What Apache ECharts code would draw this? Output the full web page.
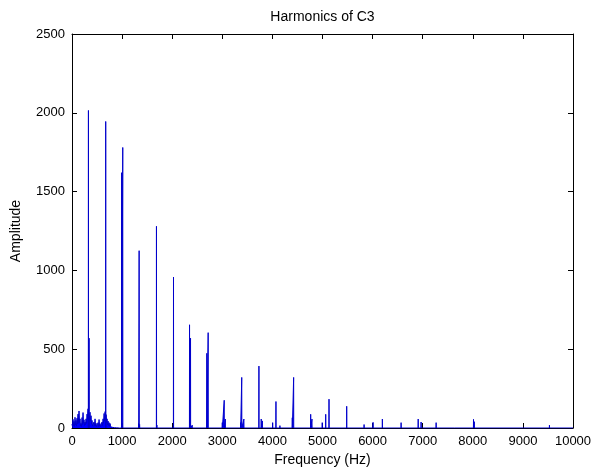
<!DOCTYPE html>
<html>
<head>
<meta charset="utf-8">
<script src="https://cdn.jsdelivr.net/npm/echarts@6/dist/echarts.min.js"></script>
<style>html,body{margin:0;padding:0;background:#fff;}#c{width:593px;height:473px;}</style>
</head>
<body>
<div id="c"></div>
<script>
// Low-frequency noise floor, sampled every 10 Hz from 0 to 900 Hz
const noiseStepHz = 10;
const noiseAmp = [25,8,55,15,42,10,68,20,48,12,62,25,88,30,108,35,58,12,28,10,
  66,22,98,30,52,15,38,20,58,30,88,60,122,80,118,70,100,45,78,25,
  48,12,24,8,38,14,58,12,30,8,18,6,34,10,54,12,28,8,18,10,
  38,15,58,30,92,45,104,60,85,35,58,20,44,15,34,10,28,8,18,5,
  14,4,10,3,8,2,6,2,5,1,0];
// Harmonic spikes (Hz) and their amplitudes
const peakFreq = [328,341,673,950,990,1013,1080,1330,1340,1350,1686,1695,2026,2346,2366,2400,2691,2718,3000,3038,3060,3365,3388,3431,3731,3777,3800,4005,4071,4150,4397,4424,4764,4790,4995,5064,5130,5483,5830,6009,6195,6569,6910,6968,7268,7642,8014,8030,9530];
const peakAmp  = [2015,570,1945,12,1620,1780,10,28,1125,22,1280,18,958,655,570,18,474,605,34,176,57,34,321,57,393,57,45,34,168,15,65,321,87,57,34,87,183,138,22,36,57,34,57,38,34,12,55,40,18];
const xTicks = [0,1000,2000,3000,4000,5000,6000,7000,8000,9000,10000];
const yTicks = [0,500,1000,1500,2000,2500];

const pts = [];
noiseAmp.forEach((a, i) => pts.push([i * noiseStepHz, a]));
peakFreq.forEach((f, i) => { pts.push([f - 2, 0]); pts.push([f, peakAmp[i]]); pts.push([f + 2, 0]); });
pts.push([10000, 0]);
pts.sort((a, b) => a[0] - b[0]);

const font = "'Liberation Sans', Arial, Helvetica, sans-serif";
const plain = v => String(v);
const axisCommon = {
  type: 'value',
  axisLine: { show: true, onZero: false, lineStyle: { color: '#000', width: 1 } },
  axisTick: { show: true, inside: true, length: 5, lineStyle: { color: '#000' } },
  splitLine: { show: false }
};
const chart = echarts.init(document.getElementById('c'), null, { renderer: 'canvas' });
chart.setOption({
  animation: false,
  backgroundColor: '#fff',
  grid: { left: 72, right: 20, top: 34, bottom: 45, outerBoundsMode: 'none' },
  xAxis: [
    Object.assign({}, axisCommon, {
      position: 'bottom', min: xTicks[0], max: xTicks[xTicks.length - 1], interval: 1000,
      axisLabel: { color: '#000', fontSize: 13, fontFamily: font, margin: 7, formatter: plain },
      name: 'Frequency (Hz)', nameLocation: 'middle', nameGap: 24,
      nameTextStyle: { color: '#000', fontSize: 14, fontFamily: font }
    }),
    Object.assign({}, axisCommon, {
      position: 'top', min: xTicks[0], max: xTicks[xTicks.length - 1], interval: 1000,
      axisLabel: { show: false },
      name: 'Harmonics of C3', nameLocation: 'middle', nameGap: 10,
      nameTextStyle: { color: '#000', fontSize: 14, fontFamily: font }
    })
  ],
  yAxis: [
    Object.assign({}, axisCommon, {
      position: 'left', min: yTicks[0], max: yTicks[yTicks.length - 1], interval: 500,
      axisLabel: { color: '#000', fontSize: 13, fontFamily: font, margin: 7, formatter: plain },
      name: 'Amplitude', nameLocation: 'middle', nameGap: 49,
      nameTextStyle: { color: '#000', fontSize: 14, fontFamily: font }
    }),
    Object.assign({}, axisCommon, {
      position: 'right', min: yTicks[0], max: yTicks[yTicks.length - 1], interval: 500,
      axisLabel: { show: false }
    })
  ],
  series: [{
    type: 'line',
    data: pts,
    showSymbol: false,
    symbol: 'none',
    lineStyle: { color: '#0000cc', width: 1 },
    itemStyle: { color: '#0000cc' },
    areaStyle: { color: '#0000ff', opacity: 1, origin: 'start' },
    z: 3
  }]
});
</script>
</body>
</html>
